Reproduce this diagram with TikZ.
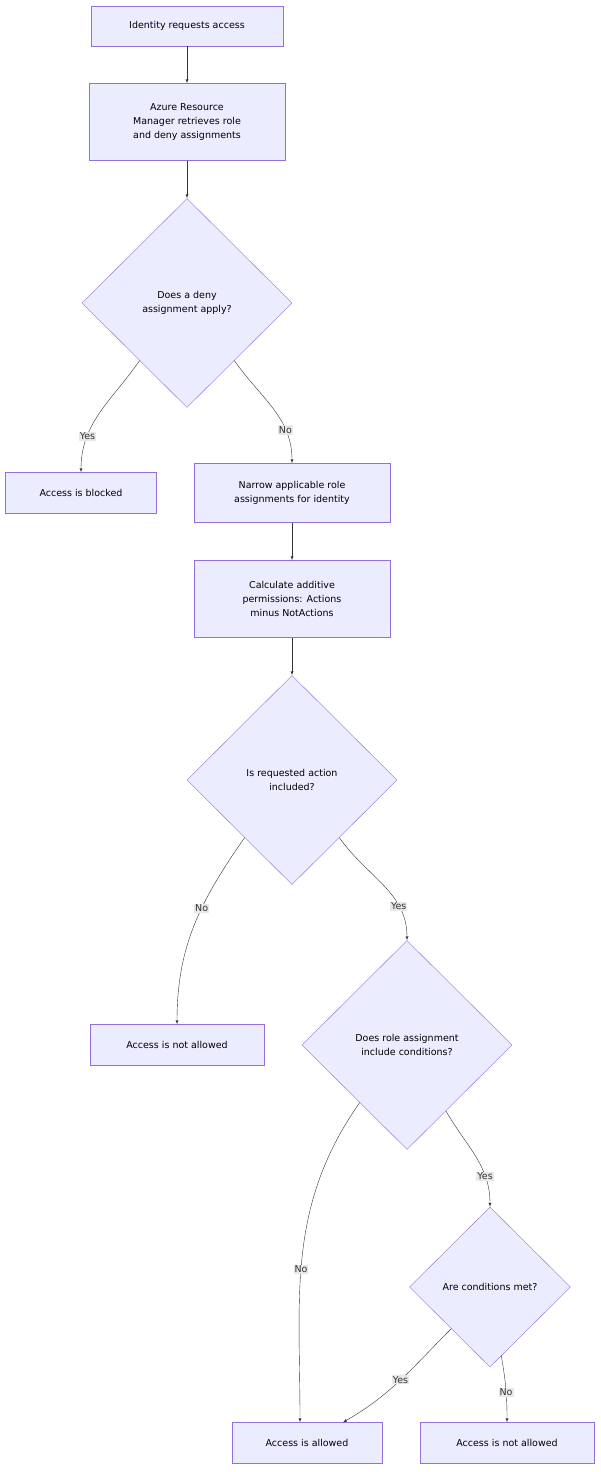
\documentclass[tikz,border=0pt]{standalone}
\usepackage{fontspec}
\setmainfont{DejaVu Sans}
\usetikzlibrary{shapes.geometric,calc}
\definecolor{boxfill}{HTML}{ECECFF}
\definecolor{boxline}{HTML}{9370DB}
\definecolor{arrowc}{HTML}{333333}
\definecolor{lblbg}{HTML}{E8E8E8}
\tikzset{
  stepbox/.style={draw=boxline, fill=boxfill, align=center, font=\fontsize{9.5}{14}\selectfont, inner sep=0pt},
  choice/.style={draw=boxline, fill=boxfill, shape=diamond, align=center, font=\fontsize{9.5}{14}\selectfont, inner sep=0pt, minimum width=210pt, minimum height=209pt},
  flow/.style={draw=arrowc, -latex, thin},
  lbl/.style={fill=lblbg, inner sep=1pt, font=\fontsize{9.5}{11}\selectfont, text=arrowc}
}
\begin{document}
\begin{tikzpicture}[x=1pt, y=-1pt]
\useasboundingbox (0,0) rectangle (600,1472);
%%%%% Boxes %%%%%
\node[stepbox, minimum width=192pt, minimum height=40pt] (request) at (187,26) {Identity requests access};
\node[stepbox, minimum width=196pt, minimum height=77pt] (arm) at (187,122) {Azure Resource\\Manager retrieves role\\and deny assignments};
\node[choice] (deny) at (187,303) {Does a deny\\assignment apply?};
\node[stepbox, minimum width=151pt, minimum height=41pt] (blocked) at (81,493) {Access is blocked};
\node[stepbox, minimum width=196pt, minimum height=59pt] (narrow) at (292,493) {Narrow applicable role\\assignments for identity};
\node[stepbox, minimum width=196pt, minimum height=77pt] (calc) at (292,599) {Calculate additive\\permissions: Actions\\minus NotActions};
\node[choice] (action) at (292,780) {Is requested action\\included?};
\node[stepbox, minimum width=174pt, minimum height=41pt] (notallowedA) at (177,1045) {Access is not allowed};
\node[choice] (cond) at (407,1045) {Does role assignment\\include conditions?};
\node[choice, minimum width=161pt, minimum height=160pt] (met) at (490,1287) {Are conditions met?};
\node[stepbox, minimum width=150pt, minimum height=41pt] (allowed) at (307,1443) {Access is allowed};
\node[stepbox, minimum width=174pt, minimum height=41pt] (notallowedB) at (507,1443) {Access is not allowed};
%%%%% Edges %%%%%
\coordinate (denyL) at ($(deny.west)!0.55!(deny.south)$);
\coordinate (denyR) at ($(deny.east)!0.55!(deny.south)$);
\coordinate (actionL) at ($(action.west)!0.55!(action.south)$);
\coordinate (actionR) at ($(action.east)!0.55!(action.south)$);
\coordinate (condL) at ($(cond.west)!0.55!(cond.south)$);
\coordinate (condR) at ($(cond.east)!0.63!(cond.south)$);
\coordinate (metL) at ($(met.west)!0.52!(met.south)$);
\coordinate (metR) at ($(met.east)!0.86!(met.south)$);
\draw[flow] (request) -- (arm);
\draw[flow] (arm) -- (deny);
\draw[flow] (denyL) to[out=235,in=90] node[lbl, pos=0.72] {Yes} (blocked.north);
\draw[flow] (denyR) to[out=-55,in=90] node[lbl, pos=0.72] {No} (narrow.north);
\draw[flow] (narrow) -- (calc);
\draw[flow] (calc) -- (action);
\draw[flow] (actionL) to[out=235,in=90] node[lbl, pos=0.4] {No} (notallowedA.north);
\draw[flow] (actionR) to[out=-55,in=90] node[lbl, pos=0.72] {Yes} (cond.north);
\draw[flow] (condL) to[out=235,in=90] node[lbl, pos=0.55] {No} ([xshift=-7pt]allowed.north);
\draw[flow] (condR) to[out=-60,in=90] node[lbl, pos=0.72] {Yes} (met.north);
\draw[flow] (metL) to[out=225,in=30] node[lbl, pos=0.5] {Yes} ([xshift=36pt]allowed.north);
\draw[flow] (metR) to[out=-80,in=90] node[lbl, pos=0.55] {No} (notallowedB.north);
\end{tikzpicture}
\end{document}
